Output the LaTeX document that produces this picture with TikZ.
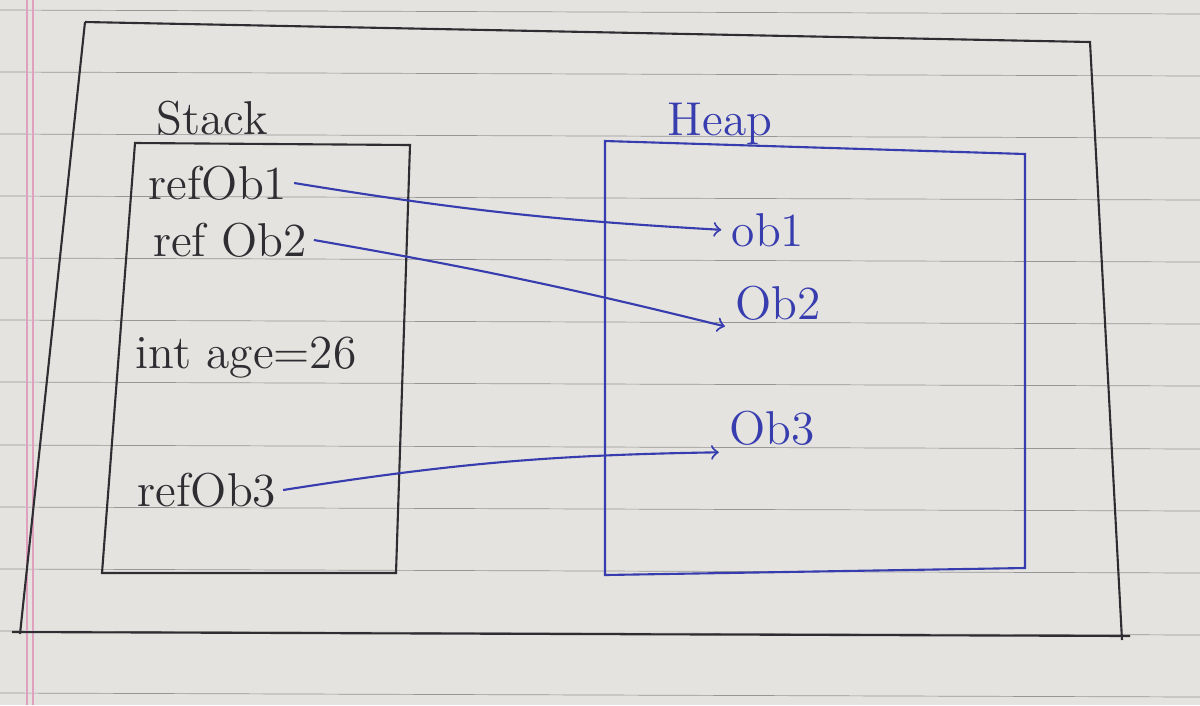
\documentclass[tikz,border=0pt]{standalone}
\usetikzlibrary{arrows}
\definecolor{paper}{RGB}{228,227,223}
\definecolor{rule}{RGB}{150,150,150}
\definecolor{pen}{RGB}{45,45,50}
\definecolor{ink}{RGB}{55,60,175}
\definecolor{margin}{RGB}{225,160,190}
\begin{document}
\begin{tikzpicture}[x=0.01cm,y=-0.01cm,inner sep=0pt,outer sep=2pt,semithick,
txt/.style={text=pen,font=\fontsize{13.5}{16}\selectfont},
bluetxt/.style={text=ink,font=\fontsize{13.5}{16}\selectfont},
ptr/.style={->,ink,semithick,shorten >=1pt}]
\useasboundingbox (0,0) rectangle (1200,705);
\fill[paper] (0,0) rectangle (1200,705);
% ruled lines of the page
\foreach \ry in {10,72,134,196,258,320,382,445,507,569,631,693}
  \draw[rule,very thin] (0,\ry) -- (1200,\ry+4);
\draw[margin,thin] (27,0) -- (27,705);
\draw[margin,thin] (33,0) -- (33,705);
% outer frame
\draw[pen] (85,22) -- (1090,42) -- (1122,640);
\draw[pen] (85,22) -- (20,634);
\draw[pen] (12,632) -- (1130,636);
% stack
\draw[pen] (135,143) -- (410,145) -- (396,573) -- (102,573) -- cycle;
\draw (212,118) node[txt] (stacklbl) {Stack};
\draw (218,183) node[txt] (rob1) {refOb1};
\draw (230,240) node[txt] (rob2) {ref Ob2};
\draw (246,358) node[txt] (age) {int age=26};
\draw (207,490) node[txt] (rob3) {refOb3};
% heap
\draw[ink] (605,141) -- (1025,154) -- (1025,568) -- (605,575) -- cycle;
\draw (720,124) node[bluetxt] (heaplbl) {Heap};
\draw (768,230) node[bluetxt] (ob1) {ob1};
\draw (778,303) node[bluetxt] (ob2) {Ob2};
\draw (772,428) node[bluetxt] (ob3) {Ob3};
% references
\draw[ptr] (rob1.east) to[bend right=3] (ob1.west);
\draw[ptr] (rob2.east) to[bend left=2] (ob2.south west);
\draw[ptr] (rob3.east) to[bend left=4] (ob3.south west);
\end{tikzpicture}
\end{document}
